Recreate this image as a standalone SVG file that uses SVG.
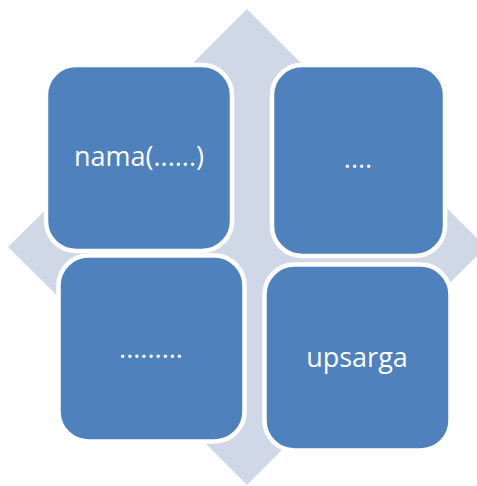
<svg xmlns="http://www.w3.org/2000/svg" width="477" height="486" viewBox="0 0 477 486">
  <style>
    .box { fill: #4F81BD; stroke: #FFFFFF; stroke-width: 4.5; }
    .lbl { fill: #FFFFFF; font-family: "Open Sans", "Noto Sans", "Liberation Sans", sans-serif; font-size: 27px; text-anchor: middle; }
    .arrow { fill: #D0D8E8; }
  </style>
  <g id="connectors">
    <polygon class="arrow" points="247,9 332,94 289,94 289,205 400,205 400,162 486,247 400,332 400,289 289,289 289,400 332,400 247,485 162,400 205,400 205,289 94,289 94,332 8,247 94,162 94,205 205,205 205,94 162,94"/>
  </g>
  <g id="node1">
    <rect class="box" x="46" y="65" width="186" height="186" rx="30" ry="30"/>
    <text class="lbl" x="139" y="166">nama(......)</text>
  </g>
  <g id="node2">
    <rect class="box" x="272" y="65" width="173" height="191" rx="30" ry="30"/>
    <text class="lbl" x="358" y="168">....</text>
  </g>
  <g id="node3">
    <rect class="box" x="58.5" y="255.5" width="186" height="186" rx="30" ry="30"/>
    <text class="lbl" x="151" y="358">.........</text>
  </g>
  <g id="node4">
    <rect class="box" x="264.5" y="264.5" width="186" height="186" rx="30" ry="30"/>
    <text class="lbl" x="357" y="367">upsarga</text>
  </g>
</svg>
